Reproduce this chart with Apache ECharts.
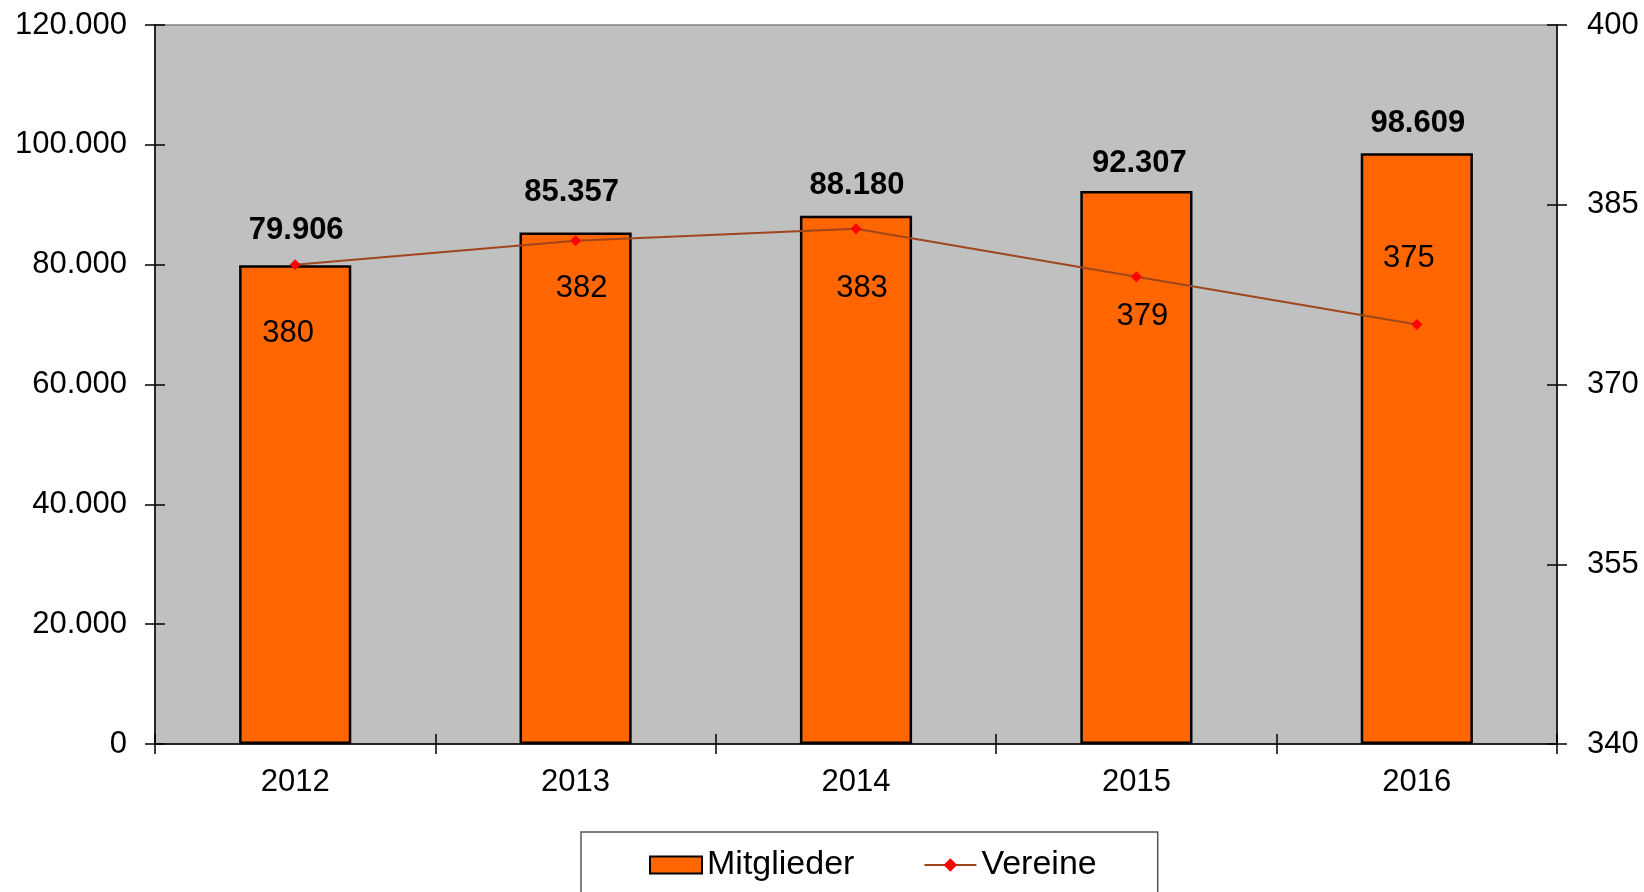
<!DOCTYPE html>
<html>
<head>
<meta charset="utf-8">
<script src="https://cdn.jsdelivr.net/npm/echarts@6/dist/echarts.min.js"></script>
<style>
html,body{margin:0;padding:0;background:#fff;}
#chart{width:1644px;height:892px;}
</style>
</head>
<body>
<div id="chart"></div>
<script>
const years = ['2012', '2013', '2014', '2015', '2016'];
const mitglieder = [79906, 85357, 88180, 92307, 98609];
const vereine = [380, 382, 383, 379, 375];
const leftTicks = { min: 0, max: 120000, interval: 20000 };
const rightTicks = { min: 340, max: 400, interval: 15 };
// label nudges (pixels), as placed in the original
const mitgliederLabelNudge = [[1, -5], [-4, -11], [1, -1], [3, 2], [1, 0]];
const vereineLabelNudge = [[-7, 69], [6, 48], [6, 60], [6, 40], [-8, -66]];

const FONT = '"Liberation Sans", Arial, sans-serif';
function de(v) {
  return String(Math.round(v)).replace(/\B(?=(\d{3})+(?!\d))/g, '.');
}

const chart = echarts.init(document.getElementById('chart'), null, { renderer: 'canvas' });

const yBase = (t, pos) => ({
  type: 'value', position: pos, min: t.min, max: t.max, interval: t.interval,
  splitLine: { show: false }
});

chart.setOption({
  animation: false,
  backgroundColor: '#ffffff',
  textStyle: { fontFamily: FONT },
  grid: {
    left: 155, right: 87, top: 25, bottom: 148,
    show: true, backgroundColor: '#C0C0C0', borderColor: '#808080', borderWidth: 1.5
  },
  legend: {
    left: 581, top: 832,
    padding: [16, 61, 40, 68],
    borderColor: '#555555', borderWidth: 1.5,
    itemWidth: 52, itemHeight: 17, itemGap: 69,
    textStyle: { fontSize: 34, color: '#000', fontFamily: FONT },
    data: [
      { name: 'Mitglieder', icon: 'rect', itemStyle: { color: '#FF6600', borderColor: '#000', borderWidth: 2 } },
      { name: 'Vereine' }
    ]
  },
  xAxis: [
    {
      type: 'category', data: years, boundaryGap: true,
      axisLine: { lineStyle: { color: '#000', width: 1.5 } },
      axisTick: { show: true, length: 10, inside: false, lineStyle: { color: '#000', width: 1.5 } },
      axisLabel: { fontSize: 31, color: '#000', margin: 23, fontFamily: FONT }
    },
    {
      type: 'category', data: years, boundaryGap: true, position: 'bottom',
      axisLine: { show: false },
      axisTick: { show: true, length: 10, inside: true, lineStyle: { color: '#000', width: 1.5 } },
      axisLabel: { show: false }
    }
  ],
  yAxis: [
    Object.assign(yBase(leftTicks, 'left'), {
      axisLine: { show: true, lineStyle: { color: '#000', width: 1.5 } },
      axisTick: { show: true, length: 10, lineStyle: { color: '#000', width: 1.5 } },
      axisLabel: { fontSize: 31, color: '#000', margin: 28, fontFamily: FONT, formatter: de }
    }),
    Object.assign(yBase(rightTicks, 'right'), {
      axisLine: { show: true, lineStyle: { color: '#000', width: 1.5 } },
      axisTick: { show: true, length: 10, lineStyle: { color: '#000', width: 1.5 } },
      axisLabel: { fontSize: 31, color: '#000', margin: 30, fontFamily: FONT }
    }),
    Object.assign(yBase(leftTicks, 'left'), {
      axisLine: { show: false },
      axisTick: { show: true, inside: true, length: 10, lineStyle: { color: '#000', width: 1.5 } },
      axisLabel: { show: false }
    }),
    Object.assign(yBase(rightTicks, 'right'), {
      axisLine: { show: false },
      axisTick: { show: true, inside: true, length: 10, lineStyle: { color: '#000', width: 1.5 } },
      axisLabel: { show: false }
    })
  ],
  series: [
    {
      name: 'Mitglieder', type: 'bar', xAxisIndex: 0, yAxisIndex: 0,
      barWidth: '40%',
      itemStyle: { color: '#FF6600', borderColor: '#000', borderWidth: 2.5 },
      label: {
        show: true, position: 'top', distance: 14,
        fontSize: 31, fontWeight: 'bold', color: '#000', fontFamily: FONT,
        formatter: p => de(p.value)
      },
      data: mitglieder.map((v, i) => ({ value: v, label: { offset: mitgliederLabelNudge[i] } })),
      z: 2
    },
    {
      name: 'Vereine', type: 'line', xAxisIndex: 0, yAxisIndex: 1,
      symbol: 'diamond', symbolSize: 11, showAllSymbol: true,
      lineStyle: { color: '#A0461E', width: 2 },
      itemStyle: { color: '#FF0000', borderWidth: 0 },
      label: {
        show: true, position: 'inside', fontSize: 31, color: '#000', fontFamily: FONT,
        align: 'center', verticalAlign: 'middle'
      },
      data: vereine.map((v, i) => ({ value: v, label: { offset: vereineLabelNudge[i] } })),
      z: 5
    }
  ]
});
</script>
</body>
</html>
